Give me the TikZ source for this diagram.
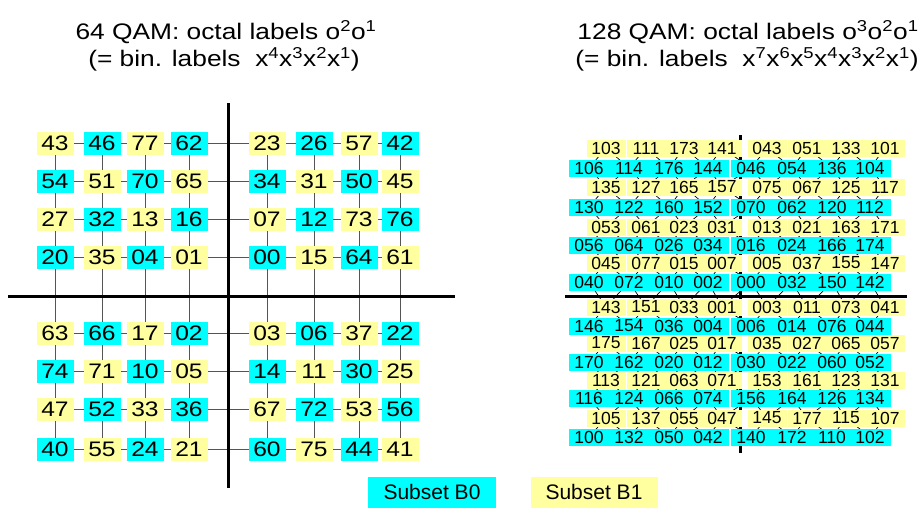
\documentclass[tikz,border=0pt]{standalone}
\usepackage{fontspec}
\setmainfont{Liberation Sans}
\newfontfamily\widefont{Liberation Sans}[FakeStretch=1.17]
\usetikzlibrary{backgrounds}
\definecolor{cB}{HTML}{00FFFF}
\definecolor{yB}{HTML}{FFFFA0}
\definecolor{gline}{HTML}{555555}
\begin{document}
\begin{tikzpicture}[x=1pt,y=-1pt,
  q64/.style={rectangle, inner sep=0pt, minimum width=37pt, minimum height=23pt, font=\widefont\fontsize{21}{21}\selectfont},
  q128/.style={rectangle, inner sep=0pt, minimum height=17pt, font=\fontsize{17.5}{18}\selectfont},
  gridline/.style={draw=gline, line width=1pt},
  axisline/.style={line width=3pt, black},
  latt/.style={line width=0.7pt, black},
  titletext/.style={font=\widefont\fontsize{22.5}{23}\selectfont, anchor=base, inner sep=0pt},
  legendbox/.style={rectangle, inner sep=0pt, minimum width=128pt, minimum height=31pt, font=\fontsize{21}{21}\selectfont}]
\useasboundingbox (0,0) rectangle (919,509);

% titles
\node[titletext] (t1a) at (226,39) {64 QAM: octal labels o\textsuperscript{2}o\textsuperscript{1}};
\node[titletext] (t1b) at (224,66) {(= bin. labels\ \ x\textsuperscript{4}x\textsuperscript{3}x\textsuperscript{2}x\textsuperscript{1})};
\node[titletext] (t2a) at (748,39) {128 QAM: octal labels o\textsuperscript{3}o\textsuperscript{2}o\textsuperscript{1}};
\node[titletext] (t2b) at (747,66) {(= bin. labels\ \ x\textsuperscript{7}x\textsuperscript{6}x\textsuperscript{5}x\textsuperscript{4}x\textsuperscript{3}x\textsuperscript{2}x\textsuperscript{1})};

% 64 QAM labels
\def\xsA{{55,102,145,189,267,314,359,400}}
\def\ysA{{143,181,219,257,333,371,409,449}}
\foreach \row [count=\r] in {{43,46,77,62,23,26,57,42},{54,51,70,65,34,31,50,45},{27,32,13,16,07,12,73,76},{20,35,04,01,00,15,64,61},{63,66,17,02,03,06,37,22},{74,71,10,05,14,11,30,25},{47,52,33,36,67,72,53,56},{40,55,24,21,60,75,44,41}}{
  \foreach \t [count=\c] in \row {
    \pgfmathsetmacro\xx{\xsA[\c-1]}
    \pgfmathsetmacro\yy{\ysA[\r-1]}
    \pgfmathtruncatemacro\pty{mod(\r+\c,2)}
    \ifnum\pty=0 \def\fc{yB}\else\def\fc{cB}\fi
    \node[q64, fill=\fc] (a\r-\c) at (\xx,\yy) {\t};
  }
}

% 128 QAM labels
\def\ysB{{148,168,187,207,227,245,263,282,307,326,343,362,380,398,418,437}}
\def\xY{{606,646,684,722,767,807,846,885}}
\def\xC{{589,629,669,708,751,792,832,870}}
\foreach \row [count=\r] in {{103,111,173,141,043,051,133,101},{106,114,176,144,046,054,136,104},{135,127,165,157,075,067,125,117},{130,122,160,152,070,062,120,112},{053,061,023,031,013,021,163,171},{056,064,026,034,016,024,166,174},{045,077,015,007,005,037,155,147},{040,072,010,002,000,032,150,142},{143,151,033,001,003,011,073,041},{146,154,036,004,006,014,076,044},{175,167,025,017,035,027,065,057},{170,162,020,012,030,022,060,052},{113,121,063,071,153,161,123,131},{116,124,066,074,156,164,126,134},{105,137,055,047,145,177,115,107},{100,132,050,042,140,172,110,102}}{
  \foreach \t [count=\k] in \row {
    \pgfmathsetmacro\yy{\ysB[\r-1]}
    \ifodd\r
      \pgfmathsetmacro\xx{\xY[\k-1]}
      \node[q128, fill=yB, minimum width=39pt] (b\r-\k) at (\xx,\yy) {\t};
    \else
      \pgfmathsetmacro\xx{\xC[\k-1]}
      \node[q128, fill=cB, minimum width=41pt] (b\r-\k) at (\xx,\yy) {\t};
    \fi
  }
}

% legend
\node[legendbox, fill=cB] (lb0) at (432,492) {Subset B0};
\node[legendbox, fill=yB, minimum width=127pt] (lb1) at (594,492) {Subset B1};

\begin{scope}[on background layer]
  \fill[white] (0,0) rectangle (919,509);
  % 64 QAM grid
  \foreach \r in {1,...,8}{
    \draw[gridline] (a\r-1.center) -- (a\r-8.center);
    \draw[gridline] (a1-\r.center) -- (a8-\r.center);
  }
  % 128 QAM lattice
  \foreach \r in {1,...,15}{
    \pgfmathtruncatemacro\rn{\r+1}
    \ifodd\r \edef\ya{\r}\edef\ca{\rn}\else\edef\ya{\rn}\edef\ca{\r}\fi
    \foreach \k in {1,...,8}{
      \draw[latt] (b\ya-\k.center) -- (b\ca-\k.center);
      \ifnum\k<8
        \pgfmathtruncatemacro\kn{\k+1}
        \draw[latt] (b\ya-\k.center) -- (b\ca-\kn.center);
      \fi
    }
  }
  % axes
  \coordinate (v1t) at (228,103); \coordinate (v1b) at (228,488);
  \coordinate (h1l) at (8,296);   \coordinate (h1r) at (455,296);
  \coordinate (v2t) at (740,135); \coordinate (v2b) at (740,453);
  \coordinate (h2l) at (565,296); \coordinate (h2r) at (907,296);
  \draw[axisline] (v1t) -- (v1b);
  \draw[axisline] (h1l) -- (h1r);
  \draw[axisline] (v2t) -- (v2b);
  \draw[axisline] (h2l) -- (h2r);
\end{scope}
\end{tikzpicture}
\end{document}
